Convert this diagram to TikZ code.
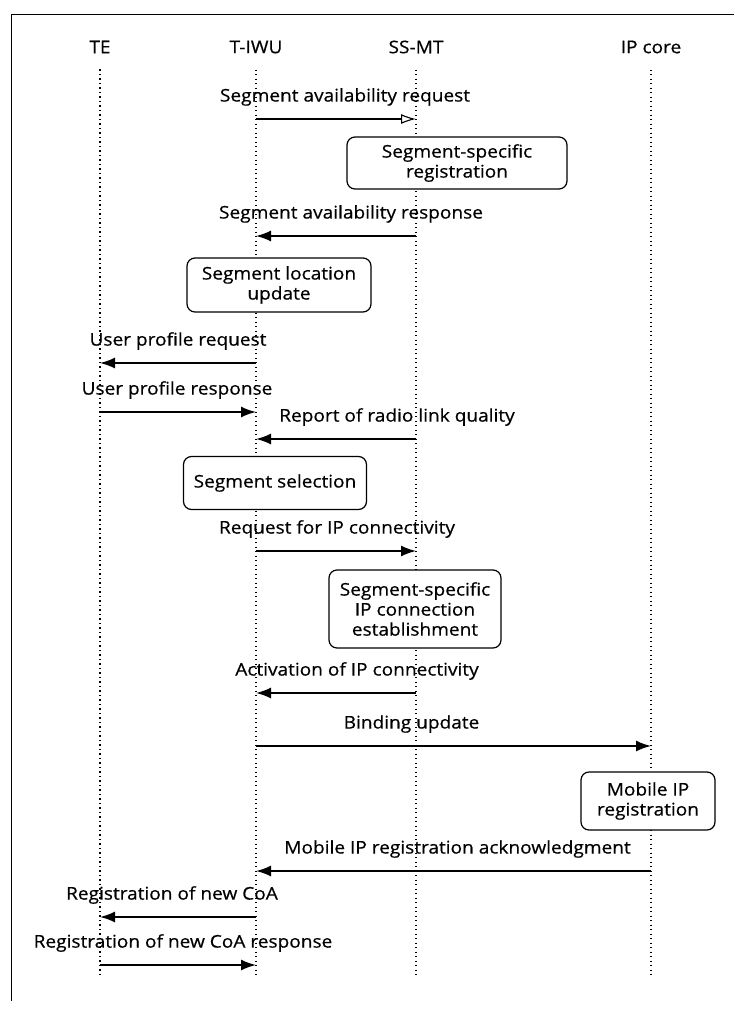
\documentclass[tikz,border=0pt]{standalone}
\usepackage{fontspec}
\setmainfont{Open Sans}[FakeStretch=1.09,FakeBold=0.5]
\usetikzlibrary{arrows.meta,positioning}

\begin{document}
\begin{tikzpicture}[x=1pt,y=-1pt,>=Latex,
		every node/.style={font=\fontsize{17.5}{20}\selectfont},
		actor/.style={inner sep=0pt},
		msgtext/.style={inner sep=0pt},
		lifeline/.style={line width=1.1pt,dash pattern=on 1.3pt off 3.2pt},
		msg/.style={line width=1.6pt,-{Latex[length=15pt,width=11pt]}},
		firstmsg/.style={line width=1.1pt,-{Latex[open,length=15pt,width=10pt]}},
		activity/.style={draw,line width=1.2pt,rounded corners=8pt,fill=white,align=center,inner sep=0pt}]
		\useasboundingbox (0,0) rectangle (734,1009);
		\draw[line width=0.8pt] (734,14) -- (11,14) -- (11,1001);
		\node[actor] (te) at (100,47) {TE};
		\node[actor] (tiwu) [right of=te,node distance=156pt] {T-IWU};
		\node[actor] (ssmt) [right of=tiwu,node distance=160pt] {SS-MT};
		\node[actor] (ipc) [right of=ssmt,node distance=235pt] {IP core};
		\foreach \a in {te,tiwu,ssmt,ipc} {
			\coordinate (\a-end) at (\a |- 0,978);
			\draw[lifeline,shorten <=16pt] (\a) -- (\a-end);
		}
		% request and responses
		\coordinate (tiwu-1) at (tiwu |- 0,119);
		\coordinate (ssmt-1) at (ssmt |- 0,119);
		\draw[firstmsg] (tiwu-1) -- node[msgtext,yshift=22pt,xshift=9pt] {Segment availability request} (ssmt-1);
		\foreach \n/\from/\to/\y/\dx/\txt in {
			2/ssmt/tiwu/236/15/Segment availability response,
			3/tiwu/te/363/0/User profile request,
			4/te/tiwu/412/-1/User profile response,
			5/ssmt/tiwu/439/61/Report of radio link quality,
			6/tiwu/ssmt/551/1/Request for IP connectivity,
			7/ssmt/tiwu/693/21/Activation of IP connectivity,
			8/tiwu/ipc/746/-42/Binding update,
			9/ipc/tiwu/871/4/Mobile IP registration acknowledgment,
			10/tiwu/te/917/-6/Registration of new CoA,
			11/te/tiwu/965/5/Registration of new CoA response} {
			\coordinate (\from-\n) at (\from |- 0,\y);
			\coordinate (\to-\n) at (\to |- 0,\y);
			\draw[msg] (\from-\n) -- node[msgtext,yshift=22pt,xshift=\dx pt] {\txt} (\to-\n);
		}
		% local procedures
		\node[activity,minimum width=220pt,minimum height=52pt] (specreg) at (457,163) {Segment-specific\\registration};
		\node[activity,minimum width=184pt,minimum height=54pt] (locupd) at (279,285) {Segment location\\update};
		\node[activity,minimum width=183pt,minimum height=53pt] (segsel) at (275,483) {Segment selection};
		\node[activity,minimum width=172pt,minimum height=78pt] (ipconn) at (415,609) {Segment-specific\\IP connection\\establishment};
		\node[activity,minimum width=134pt,minimum height=58pt] (mipreg) at (648,801) {Mobile IP\\registration};
	\end{tikzpicture}
\end{document}
